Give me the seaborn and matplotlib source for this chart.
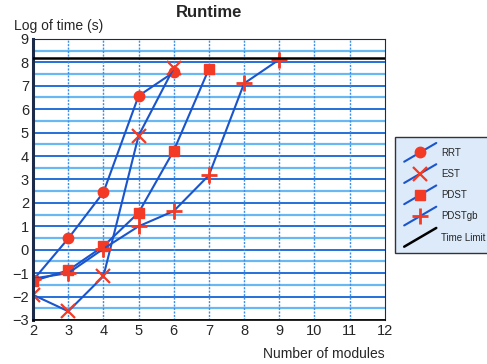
import matplotlib
matplotlib.use("Agg")
import matplotlib.pyplot as plt
import seaborn as sns
import numpy as np
import pandas as pd
from matplotlib.legend_handler import HandlerLine2D
from matplotlib.lines import Line2D

# data
modules_rrt = [2, 3, 4, 5, 6]
rrt = [-1.3, 0.48, 2.45, 6.57, 7.58]
modules_est = [2, 3, 4, 5, 6]
est = [-1.93, -2.63, -1.13, 4.87, 7.76]
modules_pdst = [2, 3, 4, 5, 6, 7]
pdst = [-1.34, -0.88, 0.15, 1.58, 4.23, 7.72]
modules_pdstgb = [2, 3, 4, 5, 6, 7, 8, 9]
pdstgb = [-1.23, -1.0, 0.04, 1.0, 1.65, 3.18, 7.1, 8.12]
time_limit = np.log(3600)

series = [
    ("RRT", modules_rrt, rrt, "o", 7.5, 1.0),
    ("EST", modules_est, est, "x", 10, 1.6),
    ("PDST", modules_pdst, pdst, "s", 7.5, 1.0),
    ("PDSTgb", modules_pdstgb, pdstgb, "+", 11, 2.0),
]

LINE = "#1a55cc"
MARK = "#f23a25"

sns.set_style("white")
plt.rcParams["font.family"] = ["Liberation Sans", "DejaVu Sans"]

fig = plt.figure(figsize=(4.87, 3.64), dpi=100)
ax = fig.add_axes([0.068, 0.121, 0.722, 0.772])

# horizontal grid: integers darker, halves lighter
for v in np.arange(-3, 9.01, 0.5):
    if abs(v - round(v)) < 1e-6:
        ax.axhline(v, color="#1466d6", lw=1.3, zorder=0)
    else:
        ax.axhline(v, color="#6ab8f2", lw=1.6, zorder=0)
for v in range(3, 12):
    ax.axvline(v, color="#3d8ee6", lw=1.0, ls=(0, (1.5, 1)), zorder=0)

for name, xs, ys, m, ms, mew in series:
    df = pd.DataFrame({"modules": xs, "time": ys})
    sns.lineplot(data=df, x="modules", y="time", ax=ax, color=LINE, lw=1.5,
                 marker=m, markersize=ms, markerfacecolor=MARK,
                 markeredgecolor=MARK, markeredgewidth=mew, label=name)

ax.axhline(time_limit, color="black", lw=1.8, label="Time Limit", zorder=3)

ax.set_xlim(2, 12)
ax.set_ylim(-3, 9)
ax.set_xticks(range(2, 13))
ax.set_yticks(range(-3, 10))
ax.tick_params(labelsize=10.5, length=0, pad=3)
for s in ["top", "right"]:
    ax.spines[s].set_color("#222a40")
    ax.spines[s].set_linewidth(0.8)
ax.spines["left"].set_color("#1c2a4a")
ax.spines["left"].set_linewidth(2.2)
ax.spines["bottom"].set_color("black")
ax.spines["bottom"].set_linewidth(1.2)

ax.set_xlabel("")
ax.set_ylabel("")
ax.set_title("Runtime", fontsize=12, fontweight="bold", pad=16)
fig.text(0.029, 0.928, "Log of time (s)", fontsize=10, ha="left", va="center")
fig.text(0.79, 0.027, "Number of modules", fontsize=10, ha="right", va="center")


class DiagHandler(HandlerLine2D):
    def create_artists(self, legend, orig, xd, yd, width, height, fontsize, trans):
        x0, x1 = -xd, -xd + width
        line = Line2D([x0, x1], [-yd - 0.25 * height, -yd + 1.25 * height],
                      color=orig.get_color(), lw=orig.get_linewidth())
        line.set_transform(trans)
        arts = [line]
        if orig.get_marker() not in (None, "None", ""):
            mk = Line2D([(x0 + x1) / 2], [-yd + height / 2], ls="none",
                        marker=orig.get_marker(), markersize=orig.get_markersize(),
                        markerfacecolor=orig.get_markerfacecolor(),
                        markeredgecolor=orig.get_markeredgecolor(),
                        markeredgewidth=orig.get_markeredgewidth())
            mk.set_transform(trans)
            arts.append(mk)
        return arts


handles, labels = ax.get_legend_handles_labels()
ax.get_legend().remove()
leg = fig.legend(handles, labels, loc="upper left", bbox_to_anchor=(0.811, 0.624),
                 borderaxespad=0, fontsize=7, frameon=True, fancybox=False,
                 handlelength=3.3, handleheight=1.6, handletextpad=0.5,
                 labelspacing=0.9, borderpad=0.95,
                 handler_map={Line2D: DiagHandler()})
leg.get_frame().set_facecolor("#dceafa")
leg.get_frame().set_edgecolor("#333333")
leg.get_frame().set_linewidth(1.0)
leg.get_frame().set_alpha(1)

fig.savefig("out.png", dpi=100)
